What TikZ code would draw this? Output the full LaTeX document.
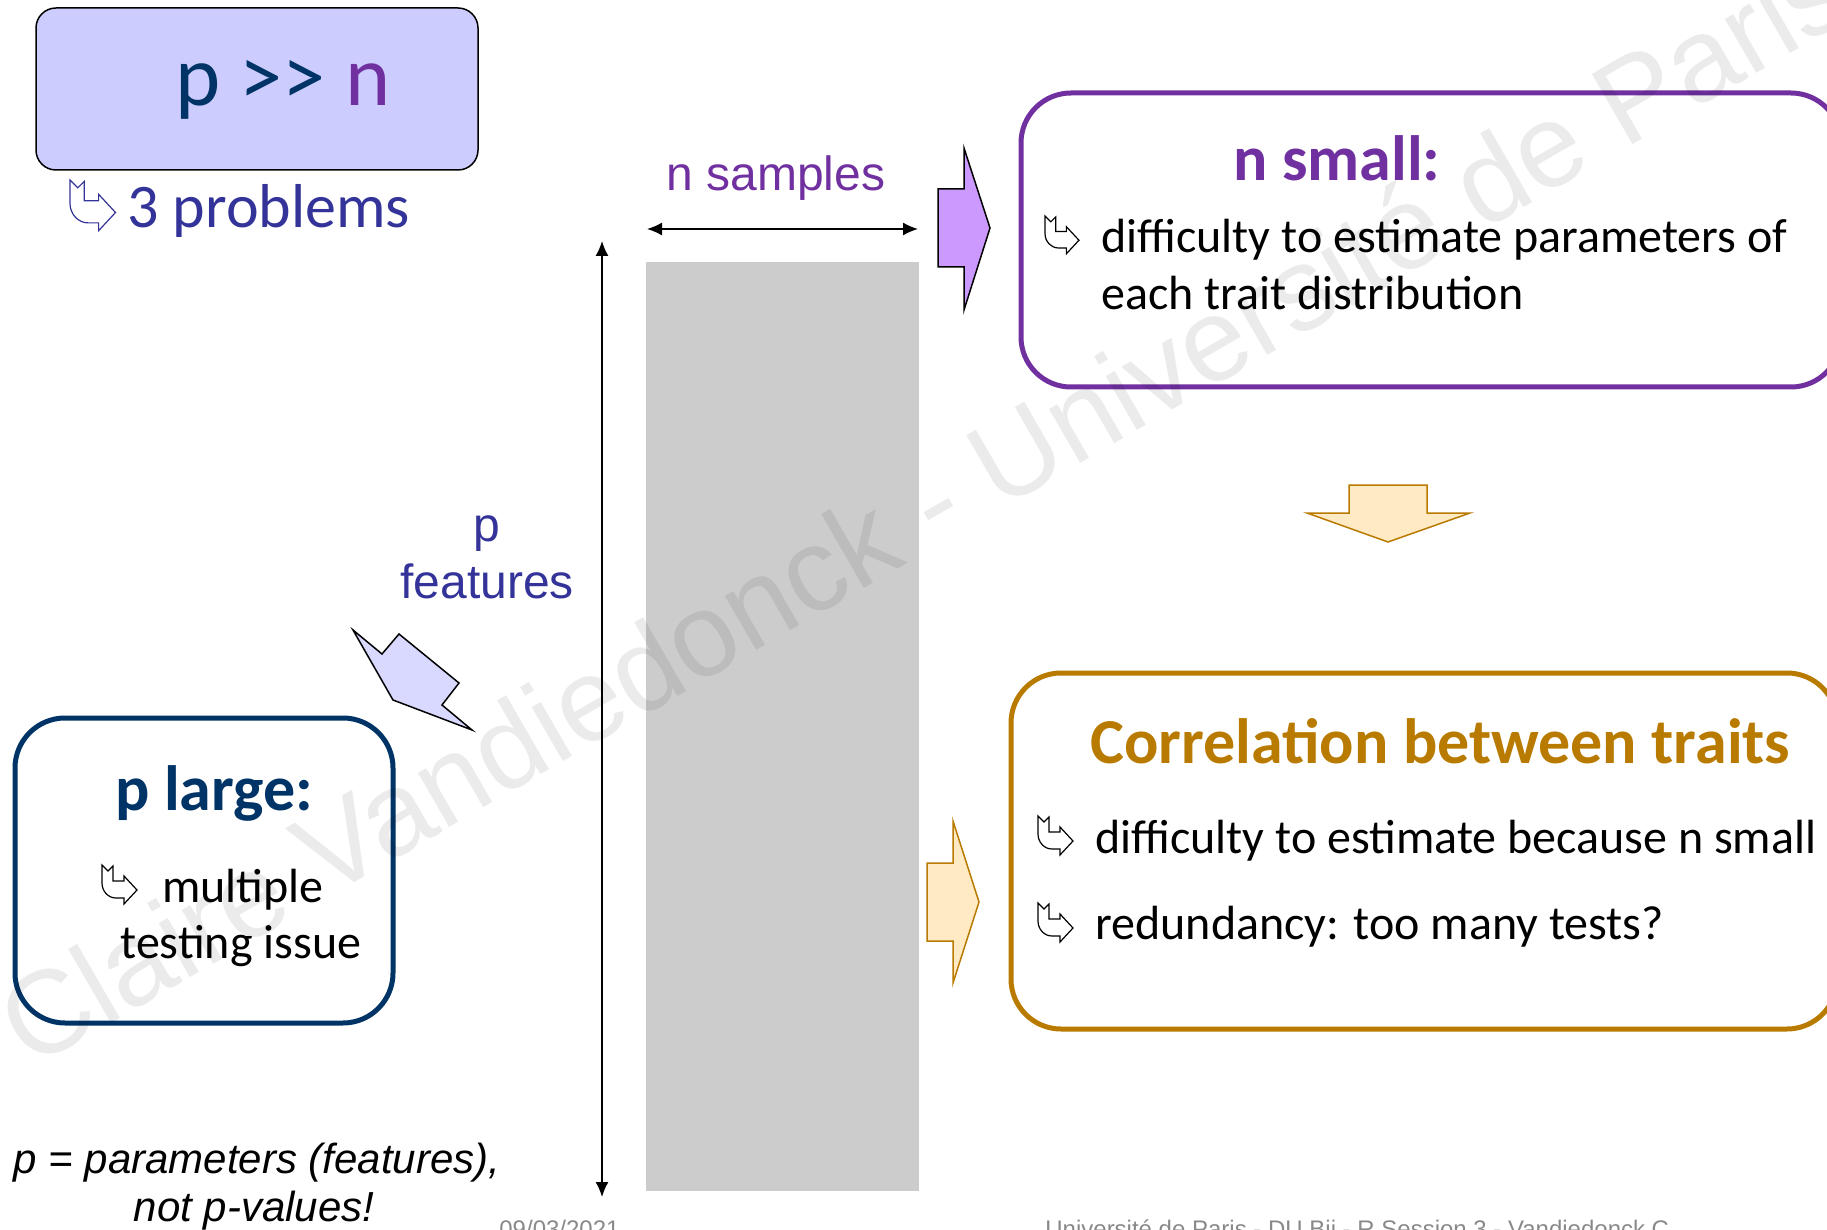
\documentclass[tikz,border=0pt]{standalone}
\usepackage{fontspec}
\setmainfont{Carlito}
\newfontfamily\arialfont{Liberation Sans}
\usetikzlibrary{arrows.meta}
\definecolor{navy}{HTML}{003366}
\definecolor{plum}{HTML}{7030A0}
\definecolor{indigo}{HTML}{333399}
\definecolor{lilac}{HTML}{CCCCFF}
\definecolor{orchid}{HTML}{CC99FF}
\definecolor{periwinkle}{HTML}{D9D9FF}
\definecolor{gold}{HTML}{B97A00}
\definecolor{cornsilk}{HTML}{FFEAC3}
\definecolor{slate}{HTML}{CCCCCC}
\definecolor{footgray}{HTML}{898989}
\tikzset{
  every node/.style={inner sep=0pt,text=black},
  body/.style={font=\fontsize{24}{28.5}\selectfont,anchor=base west},
  head/.style={font=\bfseries\fontsize{32}{38}\selectfont,anchor=base west},
  axislabel/.style={font=\arialfont\fontsize{24}{28}\selectfont,anchor=base},
  note/.style={font=\arialfont\itshape\fontsize{21}{25}\selectfont,anchor=base},
  foot/.style={font=\arialfont\fontsize{12}{14}\selectfont,text=footgray,anchor=base west},
  dim/.style={{Latex[length=7.5pt,width=6.5pt]}-{Latex[length=7.5pt,width=6.5pt]},line width=.75pt},
  card/.style={rounded corners=25pt,line width=2.5pt},
  blockarrow/.style={line width=.75pt,line join=miter},
}
\newcommand{\hookicon}[4]{%
  \begin{scope}[shift={(#1,#2)},scale=#3]
    \draw[draw=#4,line width=.6pt,line join=miter] (0,0) -- (6,6) -- (11,1) -- (11,16) -- (22,16) -- (22,11) -- (35,25) -- (22,39) -- (22,33) -- (14,33) .. controls (6,33) and (0,26) .. (0,18) -- cycle;
  \end{scope}}

\begin{document}
\begin{tikzpicture}[x=.5pt,y=-.5pt]
\path[use as bounding box] (0,0) rectangle (1827,1230);
% headline
\draw[fill=lilac,draw=black,line width=.75pt,rounded corners=10pt] (36,8) rectangle (478,170);
\node[font=\fontsize{43}{50}\selectfont,anchor=base west] (ratio) at (175,106) {\textcolor{navy}{p >{}> }\textcolor{plum}{n}};
\hookicon{70}{180}{1.3}{indigo}
\node[font=\fontsize{31}{36}\selectfont,anchor=base west,text=indigo] (problems) at (127,228) {3 problems};
% data matrix with its two dimensions
\fill[slate] (646,262) rectangle (919,1191);
\coordinate (wleft) at (647,229);
\coordinate (wright) at (918,229);
\draw[dim] (wleft) -- (wright);
\node[axislabel,text=plum] (samples) at (776,191) {n samples};
\coordinate (htop) at (602,241);
\coordinate (hbottom) at (602,1197);
\draw[dim] (htop) -- (hbottom);
\node[axislabel,text=indigo] (pletter) at (487,541) {p};
\node[axislabel,text=indigo] (features) at (487,598) {features};
% n small
\draw[blockarrow,fill=orchid,draw=black] (938,189) -- (964,189) -- (964,148) -- (990,228) -- (964,310) -- (964,267) -- (938,267) -- cycle;
\draw[card,draw=plum] (1021,93) rectangle (1841,387);
\node[head,text=plum] (nsmall) at (1233,181) {n small:};
\hookicon{1045}{216}{.97}{black}
\node[body] (nsmalla) at (1101,253) {difficulty to estimate parameters of};
\node[body] (nsmallb) at (1101,310) {each trait distribution};
% correlation
\draw[blockarrow,fill=cornsilk,draw=gold] (1349,485) -- (1427,485) -- (1427,513) -- (1470,513) -- (1388,542) -- (1307,513) -- (1349,513) -- cycle;
\draw[blockarrow,fill=cornsilk,draw=gold] (927,863) -- (953,863) -- (953,821) -- (979,902) -- (953,983) -- (953,941) -- (927,941) -- cycle;
\draw[card,draw=gold] (1011,673) rectangle (1837,1029);
\node[head,text=gold] (correl) at (1090,763) {Correlation between traits};
\hookicon{1038}{816}{1}{black}
\node[body] (correla) at (1095,853) {difficulty to estimate because n small};
\hookicon{1038}{903}{1}{black}
\node[body] (correlb) at (1095,939) {redundancy: too many tests?};
% p large
\draw[blockarrow,fill=periwinkle,draw=black] (353,630) -- (382,654) -- (399,634) -- (459,683) -- (442,705) -- (472,730) -- (393,700) -- cycle;
\draw[card,draw=navy] (15,718) rectangle (393,1023);
\node[head,text=navy] (plarge) at (115,810) {p large:};
\hookicon{102}{865}{1}{black}
\node[body] (plargea) at (162,902) {multiple};
\node[body] (plargeb) at (120,958) {testing issue};
% footnote and footer
\node[note] (notea) at (257,1173) {p = parameters (features),};
\node[note] (noteb) at (254,1221) {not p-values!};
\node[foot] (date) at (499,1237) {09/03/2021};
\node[foot] (course) at (1045,1237) {Université de Paris - DU Bii - R Session 3 - Vandiedonck C.};
% watermark
\node[font=\arialfont\fontsize{59}{62}\selectfont,text=black,text opacity=.08,anchor=base west,rotate=30] (mark) at (30,1070) {Claire Vandiedonck - Université de Paris};
\end{tikzpicture}
\end{document}
